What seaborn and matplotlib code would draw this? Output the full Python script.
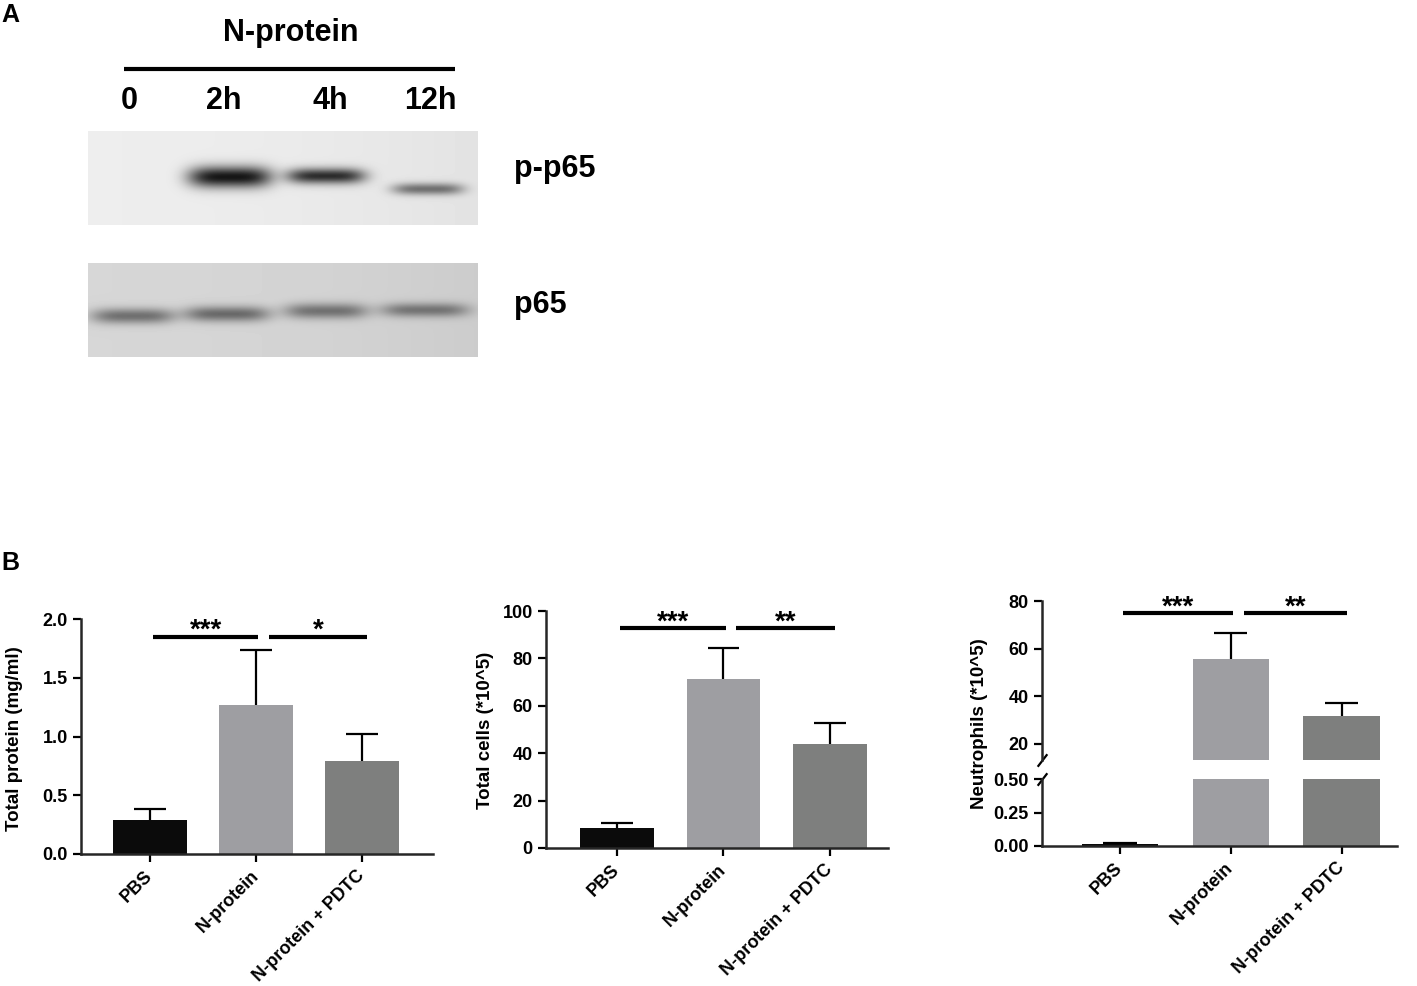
import numpy as np
import matplotlib
matplotlib.use('Agg')
import matplotlib.pyplot as plt
import seaborn as sns

# Panel A - western blot band strengths (0 = no band)
lanes = ['0', '2h', '4h', '12h']
pp65_signal = [0.0, 0.84, 0.74, 0.46]
p65_signal = [0.40, 0.42, 0.38, 0.36]

# Panel B - BALF measurements (mean and top of error bar)
groups = ['PBS', 'N-protein', 'N-protein + PDTC']
protein_mean = [0.29, 1.27, 0.79]
protein_top = [0.38, 1.74, 1.02]
cells_mean = [8.5, 71.5, 44.0]
cells_top = [10.5, 84.5, 52.8]
neut_mean = [0.015, 55.5, 31.5]
neut_top = [0.022, 66.5, 37.0]

protein_stars = ['***', '*']
cells_stars = ['***', '**']
neut_stars = ['***', '**']
protein_sig_y = 1.85
cells_sig_y = 92.8
neut_sig_y = 75.0

bar_colors = ['#0b0b0b', '#9e9ea2', '#7e7f7e']

sns.set_style('ticks')
plt.rcParams['font.family'] = ['Liberation Sans', 'DejaVu Sans']
plt.rcParams['font.weight'] = 'bold'
plt.rcParams['axes.labelweight'] = 'bold'
plt.rcParams['axes.linewidth'] = 1.8
plt.rcParams['text.color'] = 'black'

W, H = 1417, 986
fig = plt.figure(figsize=(W / 100, H / 100), dpi=100)


def px_axes(x0, y0, x1, y1):
    return fig.add_axes([x0 / W, 1 - y1 / H, (x1 - x0) / W, (y1 - y0) / H])


def blot_image(signal, cx, cy, sx, sy, bg, w=390, h=94):
    yy, xx = np.mgrid[0:h, 0:w] + 0.5
    # slightly darker towards the right edge, like a scanned film
    img = bg - 0.04 * (xx / w) ** 2
    for amp, x, y, a, b in zip(signal, cx, cy, sx, sy):
        img -= amp * np.exp(-0.5 * np.abs((xx - x) / a) ** 4 - 0.5 * ((yy - y) / b) ** 2)
    return np.clip(img, 0, 1)


# ---------- panel A ----------
ov = fig.add_axes([0, 0, 1, 1])
top_img = blot_image(pp65_signal, [45, 142, 238, 340], [46, 46, 45, 58],
                     [34, 35, 33, 30], [7.5, 7.5, 5.5, 4.2], bg=0.93)
bot_img = blot_image(p65_signal, [45, 139, 238, 337], [53, 51, 48, 47],
                     [35, 36, 35, 37], [5.5, 5.5, 5.5, 5], bg=0.84)
ov.imshow(top_img, cmap='gray', vmin=0, vmax=1, extent=(88, 478, 225, 131),
          aspect='auto', interpolation='bilinear')
ov.imshow(bot_img, cmap='gray', vmin=0, vmax=1, extent=(88, 478, 357, 263),
          aspect='auto', interpolation='bilinear')
ov.set_xlim(0, W)
ov.set_ylim(H, 0)
ov.axis('off')

ov.text(1, 15, 'A', fontsize=18, ha='left', va='center')
ov.text(291, 33, 'N-protein', fontsize=22, ha='center', va='center')
ov.plot([124, 455], [69, 69], color='black', lw=3, solid_capstyle='butt')
for lab, x in zip(lanes, [129, 224, 330, 430]):
    ov.text(x, 101, lab, fontsize=22, ha='center', va='center')
ov.text(514, 169, 'p-p65', fontsize=22, ha='left', va='center')
ov.text(514, 305, 'p65', fontsize=22, ha='left', va='center')
ov.text(1, 563, 'B', fontsize=18, ha='left', va='center')


# ---------- panel B ----------
def draw_bars(ax, means, tops):
    sns.barplot(x=groups, y=means, hue=groups, palette=bar_colors, legend=False,
                width=0.69, saturation=1, errorbar=None, edgecolor='none', ax=ax)
    xs = np.arange(len(groups))
    ax.vlines(xs, means, tops, color='black', lw=1.6)
    ax.hlines(tops, xs - 0.15, xs + 0.15, color='black', lw=1.6)
    ax.tick_params(axis='both', length=6, width=1.6, labelsize=13, colors='black')
    sns.despine(ax=ax)


def draw_sig(ax, stars, y):
    for s, (x0, x1) in zip(stars, [(0.03, 1.02), (1.12, 2.05)]):
        ax.plot([x0, x1], [y, y], color='black', lw=3, clip_on=False,
                solid_capstyle='butt')
        ax.annotate(s, ((x0 + x1) / 2, y), xytext=(0, -1), textcoords='offset points',
                    ha='center', va='baseline', fontsize=20, annotation_clip=False)


def set_group_labels(ax):
    ax.set_xticks(range(len(groups)))
    ax.set_xticklabels(groups, rotation=45, ha='right', va='center',
                       rotation_mode='anchor')
    ax.tick_params(axis='x', pad=8)
    ax.set_xlabel('')
    ax.set_ylabel('')


# chart 1: total protein
ax1 = px_axes(81, 619, 433, 854)
draw_bars(ax1, protein_mean, protein_top)
ax1.set_ylim(0, 2.0)
ax1.set_yticks([0, 0.5, 1.0, 1.5, 2.0])
ax1.set_xlim(-0.651, 2.67)
set_group_labels(ax1)
draw_sig(ax1, protein_stars, protein_sig_y)
fig.text(15 / W, 1 - 739 / H, 'Total protein (mg/ml)', rotation=90,
         ha='center', va='center', fontsize=13.5)

# chart 2: total cells
ax2 = px_axes(546, 611, 888, 848)
draw_bars(ax2, cells_mean, cells_top)
ax2.set_ylim(0, 100)
ax2.set_yticks(range(0, 101, 20))
ax2.set_xlim(-0.667, 2.545)
set_group_labels(ax2)
draw_sig(ax2, cells_stars, cells_sig_y)
fig.text(485 / W, 1 - 730 / H, 'Total cells (*10^5)', rotation=90,
         ha='center', va='center', fontsize=13.5)

# chart 3: neutrophils, broken y axis
ax3t = px_axes(1042, 601, 1397, 760)
ax3b = px_axes(1042, 779, 1397, 846)
for ax in (ax3t, ax3b):
    draw_bars(ax, neut_mean, neut_top)
    ax.set_xlim(-0.703, 2.5)
ax3t.set_ylim(13.2, 80)
ax3t.set_yticks([20, 40, 60, 80])
ax3t.spines['bottom'].set_visible(False)
ax3t.tick_params(axis='x', bottom=False, labelbottom=False)
ax3t.set_xlabel('')
ax3t.set_ylabel('')
ax3b.set_ylim(0, 0.5)
ax3b.set_yticks([0, 0.25, 0.5])
ax3b.set_yticklabels(['0.00', '0.25', '0.50'])
set_group_labels(ax3b)
draw_sig(ax3t, neut_stars, neut_sig_y)

brk = dict(marker=[(-1, -1.3), (1, 1.3)], markersize=9, linestyle='none',
           color='black', mec='black', mew=1.6, clip_on=False)
ax3t.plot([0], [0], transform=ax3t.transAxes, **brk)
ax3b.plot([0], [1], transform=ax3b.transAxes, **brk)
fig.text(979 / W, 1 - 724 / H, 'Neutrophils (*10^5)', rotation=90,
         ha='center', va='center', fontsize=13.5)

fig.savefig('out.png', dpi=100)
